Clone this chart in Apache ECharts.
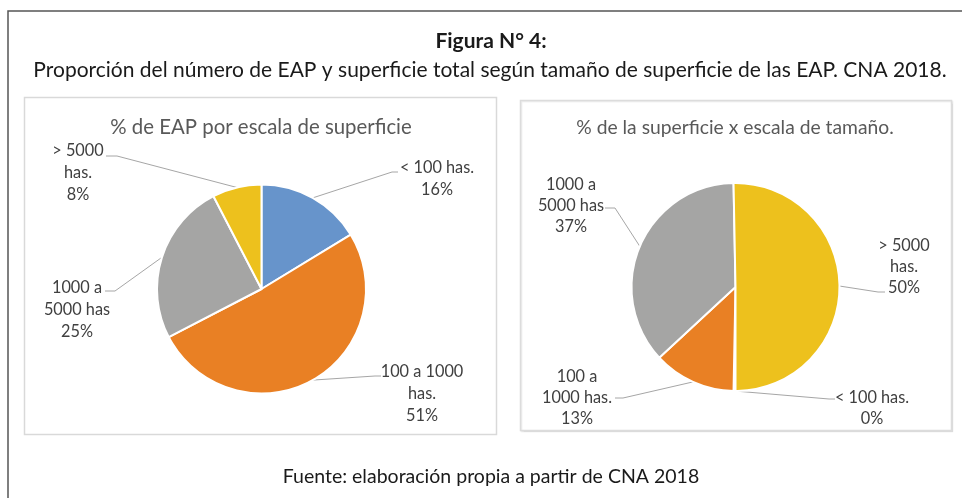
<!DOCTYPE html>
<html>
<head>
<meta charset="utf-8">
<title>Figura N° 4</title>
<script src="https://cdn.jsdelivr.net/npm/echarts@6/dist/echarts.min.js"></script>
<style>
html, body { margin: 0; padding: 0; background: #fff; }
#chart { width: 962px; height: 498px; }
</style>
</head>
<body>
<div id="chart"></div>
<script>
// categorias (mismo orden en los dos graficos)
var categorias = ['< 100 has.', '100 a 1000 has.', '1000 a 5000 has', '> 5000 has.'];
// % de EAP por escala de superficie
var eapValores = [16.3, 51.1, 25.0, 7.6];
var eapEtiquetas = ['< 100 has.', '100 a 1000\nhas.', '1000 a\n5000 has', '> 5000\nhas.'];
// % de la superficie x escala de tamaño
var supValores = [0.3, 12.8, 36.6, 50.3];
var supEtiquetas = ['< 100 has.', '100 a\n1000 has.', '1000 a\n5000 has', '> 5000\nhas.'];
var colores = ['#6794CB', '#E98024', '#A5A5A4', '#EDC11D'];

// posicion de cada etiqueta: [centro x, y 1a linea, fin linea x, fin linea y, quiebre x]
var posEap = [[437, 168, 398, 172, 392], [422, 372, 381, 376, 375], [77, 288, 105, 291, 115], [78, 151, 106, 156, 117]];
var posSup = [[872, 398, 835, 399, 829], [577, 377, 615, 398, 623], [571, 185, 605, 208, 615], [904, 246, 885, 292, 878]];

var fuente = 'Lato, "Open Sans", sans-serif';
var chart = echarts.init(document.getElementById('chart'));

function armarDatos(valores, etiquetas) {
	var datos = [];
	for (var i = 0; i < categorias.length; i++) {
		datos.push({ name: categorias[i], value: valores[i], etiqueta: etiquetas[i] });
	}
	return datos;
}

function colocar(pos, lh) {
	return function (params) {
		var p = pos[params.dataIndex];
		var pts = params.labelLinePoints;
		var inicio = pts ? pts[0] : [p[4], p[3]];
		return {
			x: p[0],
			y: p[1] - lh / 2,
			align: 'center',
			verticalAlign: 'top',
			labelLinePoints: [inicio, [p[4], p[3]], [p[2], p[3]]]
		};
	};
}

function serieTorta(datos, centro, radio, inicio, pos, fs, lh) {
	return {
		type: 'pie',
		center: centro,
		radius: radio,
		startAngle: inicio,
		clockwise: true,
		data: datos,
		color: colores,
		itemStyle: { borderColor: '#fff', borderWidth: 2 },
		emphasis: { disabled: true },
		label: {
			show: true,
			position: 'outside',
			fontFamily: fuente,
			fontSize: fs,
			lineHeight: lh,
			color: '#404040',
			formatter: function (params) {
				return params.data.etiqueta + '\n' + Math.round(params.percent) + '%';
			}
		},
		labelLine: {
			show: true,
			length: 10,
			length2: 10,
			lineStyle: { color: '#A6A6A6', width: 1 }
		},
		labelLayout: colocar(pos, lh)
	};
}

var option = {
	animation: false,
	backgroundColor: '#fff',
	graphic: [
		{ type: 'rect', shape: { x: 8, y: 11, width: 980, height: 520 }, style: { fill: 'none', stroke: '#555', lineWidth: 1.5 }, silent: true },
		{ type: 'rect', shape: { x: 24.5, y: 97.5, width: 472, height: 337 }, style: { fill: '#fff', stroke: '#D9D9D9', lineWidth: 1.5 }, silent: true },
		{ type: 'rect', shape: { x: 520.5, y: 100.5, width: 431, height: 330 }, style: { fill: '#fff', stroke: '#DCDCDC', lineWidth: 1.5, shadowBlur: 1, shadowOffsetY: 1, shadowOffsetX: 1, shadowColor: 'rgba(0,0,0,0.08)' }, silent: true },
		{ type: 'text', style: { text: 'Figura N° 4:', x: 491, y: 41, textAlign: 'center', textVerticalAlign: 'middle', font: 'bold 21px ' + fuente, fill: '#1a1a1a' } },
		{ type: 'text', style: { text: 'Proporción del número de EAP y superficie total según tamaño de superficie de las EAP. CNA 2018.', x: 490, y: 70, textAlign: 'center', textVerticalAlign: 'middle', font: '21px ' + fuente, fill: '#1a1a1a' } },
		{ type: 'text', style: { text: 'Fuente: elaboración propia a partir de CNA 2018', x: 491, y: 477, textAlign: 'center', textVerticalAlign: 'middle', font: '19.5px ' + fuente, fill: '#1a1a1a' } },
		{ type: 'text', style: { text: '% de EAP por escala de superficie', x: 261, y: 127, textAlign: 'center', textVerticalAlign: 'middle', font: '20.4px ' + fuente, fill: '#595959' } },
		{ type: 'text', style: { text: '% de la superficie x escala de tamaño.', x: 735, y: 128, textAlign: 'center', textVerticalAlign: 'middle', font: '19.3px ' + fuente, fill: '#595959' } }
	],
	series: [
		serieTorta(armarDatos(eapValores, eapEtiquetas), [261.5, 289], 104.5, 90, posEap, 16.3, 22),
		serieTorta(armarDatos(supValores, supEtiquetas), [735.5, 287], 104, -90, posSup, 16.3, 21)
	]
};
chart.setOption(option);
</script>
</body>
</html>
